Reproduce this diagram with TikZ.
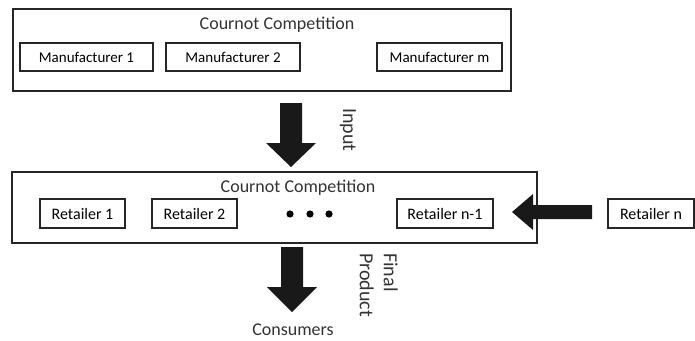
\documentclass[tikz,border=0pt]{standalone}
\usepackage{fontspec}
\setmainfont{Carlito}
\begin{document}
\begin{tikzpicture}[x=1pt,y=-1pt,
  outer/.style={draw=black!85, line width=1.5pt, inner sep=0pt},
  inbox/.style={draw=black!85, line width=1.5pt, inner sep=0pt, minimum height=28pt, font=\fontsize{15}{17}\selectfont},
  rbox/.style={draw=black!85, line width=1.5pt, inner sep=0pt, minimum height=29pt, font=\fontsize{16}{18}\selectfont},
  ttl/.style={font=\fontsize{18}{20}\selectfont, inner sep=0pt, text=black!80},
  lbl/.style={font=\fontsize{18}{20}\selectfont, inner sep=0pt, text=black!80},
  vlbl/.style={font=\fontsize{20}{24}\selectfont, inner sep=0pt, text=black!80},
  bigarrow/.style={fill=black!90, draw=none}]
\useasboundingbox (0,0) rectangle (695,340);
% top block
\node[outer, minimum width=498pt, minimum height=82pt] (top) at (262,50) {};
\node[ttl] (ttop) at (277,25) {Cournot Competition};
\node[inbox, minimum width=133pt] (m1) at (86.5,57) {Manufacturer 1};
\node[inbox, minimum width=134pt] (m2) at (233,57) {Manufacturer 2};
\node[inbox, minimum width=125pt] (mm) at (439.5,57) {Manufacturer m};
% middle block
\node[outer, minimum width=525pt, minimum height=71pt] (mid) at (274.5,207.5) {};
\node[ttl] (tmid) at (298,188) {Cournot Competition};
\node[rbox, minimum width=85pt] (r1) at (82.5,213.5) {Retailer 1};
\node[rbox, minimum width=85pt] (r2) at (194.5,213.5) {Retailer 2};
\node[rbox, minimum width=96pt] (rn1) at (445,213.5) {Retailer n-1};
\node[rbox, minimum width=86pt] (rn) at (651,213.5) {Retailer n};
\foreach \i/\xx in {1/290,2/310,3/329} \fill (\xx,214) circle (3.6pt) coordinate (dot\i);
% arrows
\fill[bigarrow] (280,103) -- (302,103) -- (302,143) -- (316,143) -- (291,167) -- (266,143) -- (280,143) -- cycle;
\fill[bigarrow] (281,247) -- (303,247) -- (303,287) -- (317,287) -- (292,312) -- (267,287) -- (281,287) -- cycle;
\fill[bigarrow] (592,205) -- (592,219) -- (533,219) -- (533,230) -- (512,212) -- (533,194) -- (533,205) -- cycle;
% labels
\node[vlbl, rotate=-90] (input) at (348,130) {Input};
\node[vlbl, rotate=-90, align=left, anchor=north west] (fp) at (398,253) {Final\\Product};
\node[lbl] (cons) at (293,330) {Consumers};
\end{tikzpicture}
\end{document}
